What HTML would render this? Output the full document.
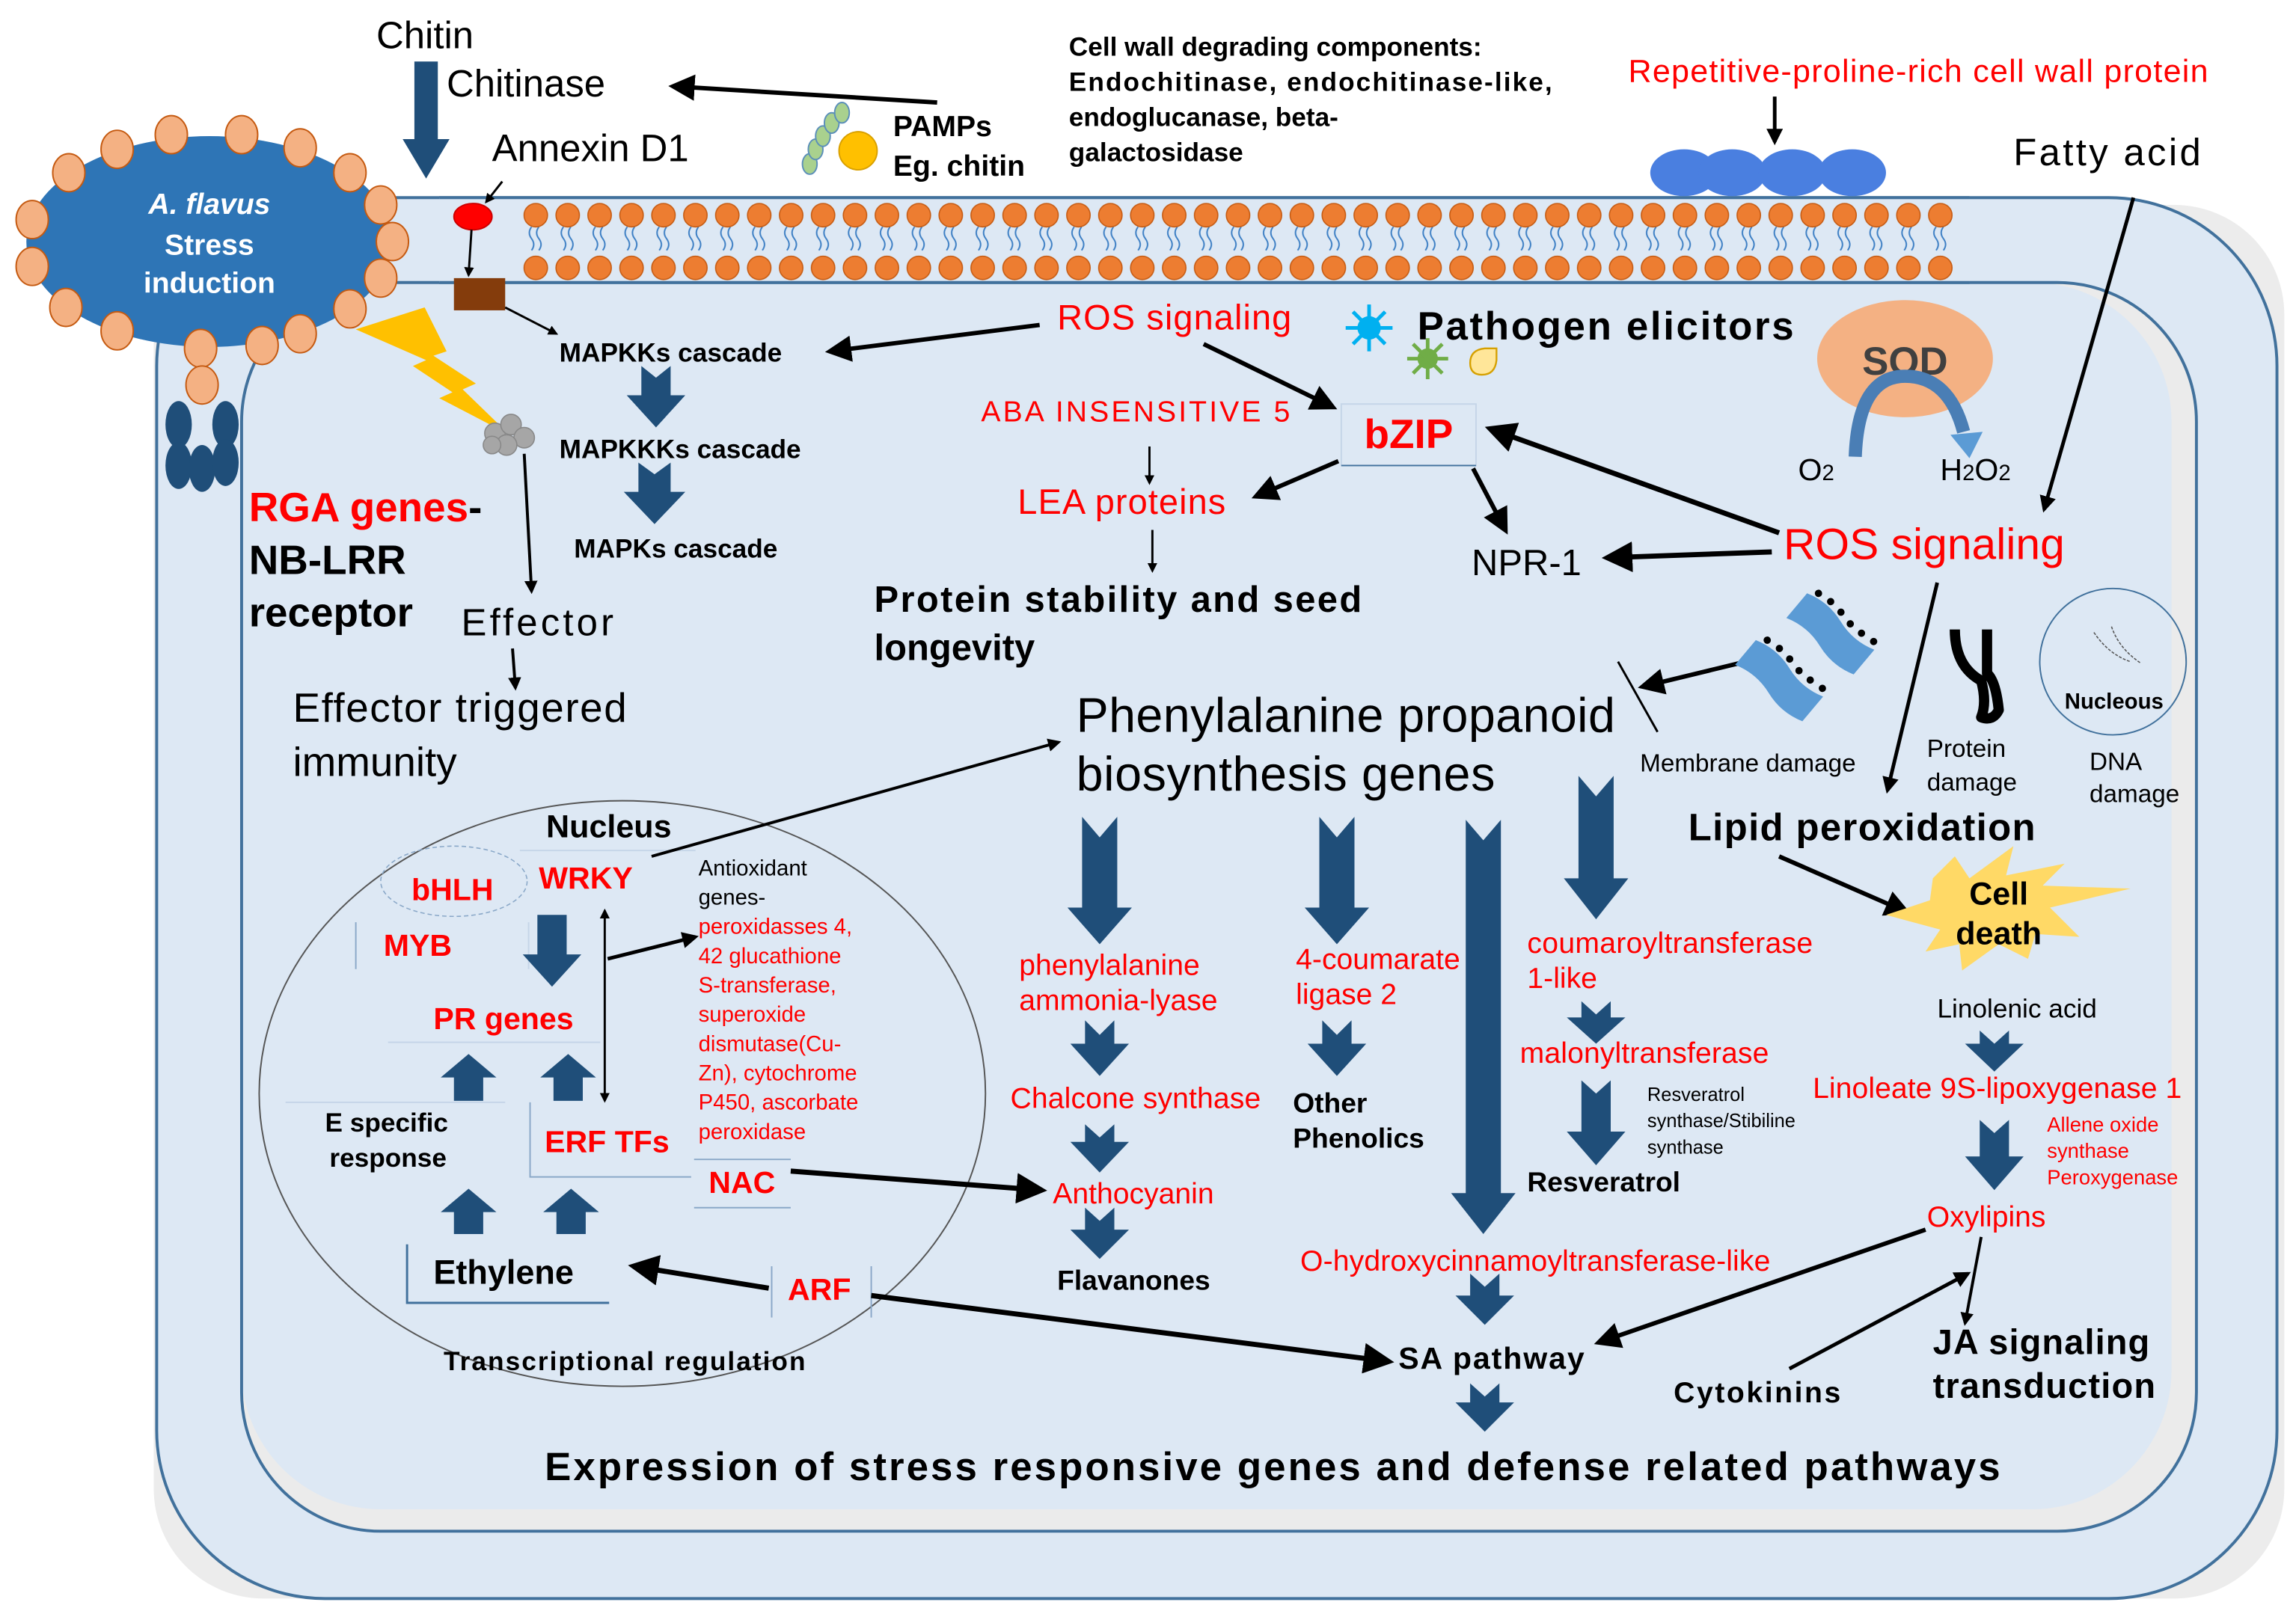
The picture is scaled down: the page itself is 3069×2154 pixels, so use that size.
<!DOCTYPE html>
<html><head><meta charset="utf-8"><style>
html,body{margin:0;padding:0;background:#fff;}
svg{display:block;}
text{font-family:"Liberation Sans",Arial,sans-serif;}
.b{font-weight:bold;}
.r{fill:#ff0000;}
</style></head><body>
<svg width="3069" height="2154" viewBox="0 0 1568 1100.5" preserveAspectRatio="none" xmlns="http://www.w3.org/2000/svg">
<defs>
<marker id="ah" viewBox="0 0 10 10" refX="8" refY="5" markerWidth="4.5" markerHeight="4.5" orient="auto-start-reverse"><path d="M0,0 L10,5 L0,10 z" fill="#000"/></marker>
<marker id="ahs" viewBox="0 0 10 10" refX="8" refY="5" markerWidth="6" markerHeight="6" orient="auto-start-reverse"><path d="M0,0 L10,5 L0,10 z" fill="#000"/></marker>
<pattern id="mem" x="355" y="135" width="21.8" height="58" patternUnits="userSpaceOnUse">
<path d="M8,20 q-3,4 0,8 q3,4 0,8 M13,20 q-3,4 0,8 q3,4 0,8" stroke="#3d7fc4" stroke-width="1" fill="none"/>
<circle cx="10.9" cy="12" r="8" fill="#ed7d31" stroke="#c55a11" stroke-width="0.8"/>
<circle cx="10.9" cy="48" r="8" fill="#ed7d31" stroke="#c55a11" stroke-width="0.8"/>
</pattern>
</defs>

<!-- cell wall -->
<rect x="105" y="140" width="1455" height="952" rx="75" fill="#ececec"/>
<rect x="107" y="135" width="1448" height="957" rx="115" fill="#dde8f4" stroke="#41719c" stroke-width="2"/>
<rect x="165" y="193" width="1335" height="853" rx="95" fill="#ebebeb"/>
<rect x="165" y="193" width="1318" height="838" rx="95" fill="#dde8f4"/>
<rect x="165" y="193" width="1335" height="853" rx="95" fill="none" stroke="#41719c" stroke-width="2"/>

<!-- membrane -->
<rect x="300" y="135" width="1045" height="58" fill="#dde8f4"/>
<rect x="355" y="135" width="981" height="58" fill="url(#mem)"/>
<line x1="300" y1="135" x2="1345" y2="135" stroke="#41719c" stroke-width="2"/>
<line x1="300" y1="193" x2="1345" y2="193" stroke="#41719c" stroke-width="2"/>

<!-- fungus -->
<ellipse cx="143" cy="165" rx="125" ry="72" fill="#2e75b6"/>
<g fill="#f4b183" stroke="#c55a11" stroke-width="1">
<ellipse cx="268" cy="165" rx="11" ry="13"/><ellipse cx="260" cy="140" rx="11" ry="13"/><ellipse cx="260" cy="190" rx="11" ry="13"/>
<ellipse cx="239" cy="118" rx="11" ry="13"/><ellipse cx="239" cy="211" rx="11" ry="13"/><ellipse cx="205" cy="101" rx="11" ry="13"/>
<ellipse cx="205" cy="228" rx="11" ry="13"/><ellipse cx="165" cy="92" rx="11" ry="13"/><ellipse cx="179" cy="236" rx="11" ry="13"/>
<ellipse cx="117" cy="92" rx="11" ry="13"/><ellipse cx="137" cy="238" rx="11" ry="13"/><ellipse cx="80" cy="102" rx="11" ry="13"/>
<ellipse cx="80" cy="226" rx="11" ry="13"/><ellipse cx="47" cy="118" rx="11" ry="13"/><ellipse cx="45" cy="210" rx="11" ry="13"/>
<ellipse cx="22" cy="150" rx="11" ry="13"/><ellipse cx="22" cy="182" rx="11" ry="13"/><ellipse cx="138" cy="263" rx="11" ry="13"/>
</g>
<text x="143" y="146" font-size="20" fill="#fff" class="b" font-style="italic" text-anchor="middle">A. flavus</text>
<text x="143" y="174" font-size="20" fill="#fff" class="b" text-anchor="middle">Stress</text>
<text x="143" y="200" font-size="20" fill="#fff" class="b" text-anchor="middle">induction</text>
<g fill="#1f4e79"><ellipse cx="122" cy="290" rx="9" ry="16"/><ellipse cx="154" cy="290" rx="9" ry="16"/><ellipse cx="122" cy="318" rx="9" ry="16"/><ellipse cx="138" cy="320" rx="9" ry="16"/><ellipse cx="154" cy="316" rx="9" ry="16"/></g>

<!-- chitin -->
<text x="257" y="33" font-size="26">Chitin</text>
<polygon points="283,42 299,42 299,95 307,95 291,122 275,95 283,95" fill="#1f4e79"/>
<text x="305" y="66" font-size="26">Chitinase</text>
<line x1="640" y1="70" x2="460" y2="59" stroke="#000" stroke-width="3" marker-end="url(#ahs)"/>
<text x="336" y="110" font-size="26">Annexin D1</text>
<line x1="343" y1="124" x2="332" y2="138" stroke="#000" stroke-width="1.5" marker-end="url(#ah)"/>
<ellipse cx="323" cy="148" rx="13" ry="9" fill="#ff0000" stroke="#c00" stroke-width="1"/>
<line x1="322" y1="157" x2="320" y2="188" stroke="#000" stroke-width="1.5" marker-end="url(#ah)"/>
<rect x="310" y="190" width="35" height="22" fill="#843c0c"/>
<line x1="345" y1="210" x2="380" y2="228" stroke="#000" stroke-width="1.5" marker-end="url(#ah)"/>

<!-- PAMPs -->
<g fill="#a9d18e" stroke="#5b8fb9" stroke-width="1">
<ellipse cx="553" cy="112" rx="5" ry="7"/><ellipse cx="557" cy="102" rx="5" ry="7"/><ellipse cx="562" cy="93" rx="5" ry="7"/><ellipse cx="568" cy="84" rx="5" ry="7"/><ellipse cx="575" cy="77" rx="5" ry="7"/>
</g>
<circle cx="586" cy="103" r="13" fill="#ffc000" stroke="#d9a000"/>
<text x="610" y="93" font-size="20" class="b">PAMPs</text>
<text x="610" y="120" font-size="20" class="b">Eg. chitin</text>
<g font-size="18" class="b"><text x="730" y="38">Cell wall degrading components:</text><text x="730" y="62" textLength="330">Endochitinase, endochitinase-like,</text><text x="730" y="86">endoglucanase, beta-</text><text x="730" y="110">galactosidase</text></g>
<text x="1112" y="56" font-size="22" class="r" textLength="396">Repetitive-proline-rich cell wall protein</text>
<line x1="1212" y1="66" x2="1212" y2="97" stroke="#000" stroke-width="2.5" marker-end="url(#ah)"/>
<g fill="#4a7fe0"><ellipse cx="1150" cy="118" rx="23" ry="16"/><ellipse cx="1183" cy="118" rx="23" ry="16"/><ellipse cx="1224" cy="118" rx="23" ry="16"/><ellipse cx="1265" cy="118" rx="23" ry="16"/></g>
<text x="1375" y="113" font-size="26" textLength="128">Fatty acid</text>
<line x1="1457" y1="135" x2="1396" y2="348" stroke="#000" stroke-width="2.5" marker-end="url(#ah)"/>

<!-- lightning -->
<polygon points="243,225 290,210 305,240 296,243 325,262 316,266 348,297 300,272 309,268 282,250 291,246" fill="#ffc000"/>
<g fill="#a6a6a6" stroke="#888" stroke-width="0.8"><circle cx="338" cy="296" r="7"/><circle cx="349" cy="290" r="7"/><circle cx="358" cy="299" r="7"/><circle cx="346" cy="304" r="7"/><circle cx="336" cy="304" r="6"/></g>
<line x1="358" y1="310" x2="363" y2="404" stroke="#000" stroke-width="2" marker-end="url(#ah)"/>

<!-- MAPK -->
<g font-size="18" class="b"><text x="382" y="247">MAPKKs cascade</text><text x="382" y="313">MAPKKKs cascade</text><text x="392" y="381">MAPKs cascade</text></g>
<line x1="710" y1="222" x2="567" y2="240" stroke="#000" stroke-width="3" marker-end="url(#ahs)"/>
<text x="722" y="225" font-size="24" class="r" textLength="160">ROS signaling</text>
<g fill="#1f4e79">
<polygon points="438,250 448,258 458,250 458,270 468,270 448,292 428,270 438,270"/>
<polygon points="436,316 447,324 458,316 458,336 468,336 447,358 426,336 436,336"/>
</g>

<text x="170" y="356" font-size="28" class="b"><tspan fill="#ff0000">RGA genes</tspan>-</text>
<text x="170" y="392" font-size="28" class="b">NB-LRR</text>
<text x="170" y="428" font-size="28" class="b">receptor</text>
<text x="315" y="434" font-size="26" textLength="104">Effector</text>
<line x1="350" y1="443" x2="352" y2="470" stroke="#000" stroke-width="2" marker-end="url(#ah)"/>
<text x="200" y="493" font-size="28" textLength="228">Effector triggered</text>
<text x="200" y="530" font-size="28">immunity</text>

<!-- center top -->
<line x1="822" y1="235" x2="910" y2="278" stroke="#000" stroke-width="3" marker-end="url(#ahs)"/>
<g transform="translate(935,224)"><circle r="8" fill="#00b0f0"/><g stroke="#00b0f0" stroke-width="2.5"><line x1="-16" y1="0" x2="16" y2="0"/><line x1="0" y1="-16" x2="0" y2="16"/><line x1="-11" y1="-11" x2="11" y2="11"/><line x1="-11" y1="11" x2="11" y2="-11"/></g></g>
<g transform="translate(975,245)"><circle r="7" fill="#70ad47"/><g stroke="#70ad47" stroke-width="2.5"><line x1="-14" y1="0" x2="14" y2="0"/><line x1="0" y1="-14" x2="0" y2="14"/><line x1="-10" y1="-10" x2="10" y2="10"/><line x1="-10" y1="10" x2="10" y2="-10"/></g></g>
<path d="M1004,248 q0,-9 10,-10 l8,0 l0,8 q-1,10 -10,10 q-8,0 -8,-8z" fill="#ffe699" stroke="#d6a000" stroke-width="1.2"/>
<text x="968" y="232" font-size="27" class="b" textLength="257">Pathogen elicitors</text>
<rect x="916" y="276" width="92" height="42" fill="#dde8f4" stroke="#c5d5e8" stroke-width="1"/>
<line x1="916" y1="318" x2="1008" y2="318" stroke="#41719c" stroke-width="1"/>
<text x="962" y="306" font-size="28" class="b r" text-anchor="middle">bZIP</text>
<text x="670" y="288" font-size="20" class="r" textLength="211">ABA INSENSITIVE 5</text>
<line x1="785" y1="305" x2="785" y2="330" stroke="#000" stroke-width="1.5" marker-end="url(#ah)"/>
<text x="695" y="351" font-size="24" class="r" textLength="142">LEA proteins</text>
<line x1="914" y1="315" x2="858" y2="339" stroke="#000" stroke-width="3" marker-end="url(#ahs)"/>
<line x1="787" y1="362" x2="787" y2="390" stroke="#000" stroke-width="1.5" marker-end="url(#ah)"/>
<text x="597" y="418" font-size="25" class="b" textLength="333">Protein stability and seed</text>
<text x="597" y="451" font-size="25" class="b">longevity</text>
<line x1="1006" y1="320" x2="1028" y2="362" stroke="#000" stroke-width="3" marker-end="url(#ahs)"/>
<text x="1005" y="393" font-size="25">NPR-1</text>
<line x1="1210" y1="377" x2="1098" y2="381" stroke="#000" stroke-width="3.5" marker-end="url(#ahs)"/>
<line x1="1215" y1="364" x2="1018" y2="293" stroke="#000" stroke-width="3.5" marker-end="url(#ahs)"/>

<!-- SOD -->
<ellipse cx="1301" cy="245" rx="60" ry="40" fill="#f4b183"/>
<text x="1301" y="256" font-size="27" class="b" fill="#404040" text-anchor="middle">SOD</text>
<path d="M1267,312 q2,-55 34,-55 q30,0 40,38" fill="none" stroke="#4a7eb5" stroke-width="9"/>
<polygon points="1332,297 1354,295 1345,313" fill="#5b9bd5"/>
<text x="1228" y="328" font-size="21">O<tspan font-size="15">2</tspan></text>
<text x="1325" y="328" font-size="21">H<tspan font-size="15">2</tspan>O<tspan font-size="15">2</tspan></text>
<text x="1218" y="382" font-size="30" class="r" textLength="192">ROS signaling</text>
<line x1="1323" y1="398" x2="1289" y2="540" stroke="#000" stroke-width="2.5" marker-end="url(#ah)"/>

<!-- damage -->
<line x1="1105" y1="452" x2="1132" y2="500" stroke="#000" stroke-width="1.5"/>
<line x1="1188" y1="453" x2="1122" y2="469" stroke="#000" stroke-width="3" marker-end="url(#ahs)"/>
<g transform="translate(1215,465) rotate(40)"><path d="M-30,-11 q15,-5 30,0 q15,5 30,0 l0,22 q-15,5 -30,0 q-15,-5 -30,0z" fill="#5b9bd5"/>
<g fill="#000"><circle cx="-24" cy="-16" r="2.5"/><circle cx="-14" cy="-17" r="2.5"/><circle cx="-4" cy="-16" r="2.5"/><circle cx="6" cy="-14" r="2.5"/><circle cx="16" cy="-14" r="2.5"/><circle cx="26" cy="-15" r="2.5"/></g></g>
<g transform="translate(1250,433) rotate(40)"><path d="M-30,-11 q15,-5 30,0 q15,5 30,0 l0,22 q-15,5 -30,0 q-15,-5 -30,0z" fill="#5b9bd5"/>
<g fill="#000"><circle cx="-24" cy="-16" r="2.5"/><circle cx="-14" cy="-17" r="2.5"/><circle cx="-4" cy="-16" r="2.5"/><circle cx="6" cy="-14" r="2.5"/><circle cx="16" cy="-14" r="2.5"/><circle cx="26" cy="-15" r="2.5"/></g></g>
<text x="1120" y="527" font-size="17">Membrane damage</text>
<path d="M1335,430 q0,25 18,35 q4,15 0,25 q8,3 12,-5 q-2,-20 -8,-25 l0,-30" fill="none" stroke="#000" stroke-width="7" stroke-linejoin="round"/>
<text x="1316" y="517" font-size="17">Protein</text>
<text x="1316" y="540" font-size="17">damage</text>
<circle cx="1443" cy="452" r="50" fill="none" stroke="#41719c" stroke-width="1"/>
<path d="M1430,432 q10,15 25,20 M1442,428 q5,15 20,25" fill="none" stroke="#555" stroke-width="0.8" stroke-dasharray="2,1"/>
<text x="1410" y="484" font-size="15" class="b">Nucleous</text>
<text x="1427" y="526" font-size="17">DNA</text>
<text x="1427" y="548" font-size="17">damage</text>

<!-- phenylalanine -->
<text x="735" y="500" font-size="33" textLength="368">Phenylalanine propanoid</text>
<text x="735" y="540" font-size="33" textLength="286">biosynthesis genes</text>
<text x="1153" y="574" font-size="26" class="b" textLength="237">Lipid peroxidation</text>
<line x1="1215" y1="585" x2="1302" y2="623" stroke="#000" stroke-width="3" marker-end="url(#ahs)"/>
<polygon points="1320,600 1335,585 1345,600 1375,578 1370,598 1410,590 1395,605 1455,607 1400,620 1420,640 1390,638 1385,655 1365,645 1340,663 1338,645 1315,650 1325,635 1288,625 1318,615" fill="#ffd966"/>
<text x="1365" y="618" font-size="22" class="b" text-anchor="middle">Cell</text>
<text x="1365" y="645" font-size="22" class="b" text-anchor="middle">death</text>
<text x="1323" y="695" font-size="18">Linolenic acid</text>

<!-- fat arrows -->
<g fill="#1f4e79">
<polygon points="739,558 751,572 763,558 763,620 773,620 751,645 729,620 739,620"/>
<polygon points="741,697 751,707 761,697 761,713 771,713 751,735 731,713 741,713"/>
<polygon points="741,768 751,777 761,768 761,780 771,780 751,801 731,780 741,780"/>
<polygon points="741,825 751,834 761,825 761,840 771,840 751,860 731,840 741,840"/>
<polygon points="901,558 913,572 925,558 925,620 935,620 913,645 891,620 901,620"/>
<polygon points="903,697 913,707 923,697 923,713 933,713 913,735 893,713 903,713"/>
<polygon points="1001,560 1013,574 1025,560 1025,815 1035,815 1013,843 991,815 1001,815"/>
<polygon points="1004,870 1014,879 1024,870 1024,885 1034,885 1014,905 994,885 1004,885"/>
<polygon points="1004,945 1014,954 1024,945 1024,958 1034,958 1014,978 994,958 1004,958"/>
<polygon points="1078,530 1090,544 1102,530 1102,600 1112,600 1090,628 1068,600 1078,600"/>
<polygon points="1080,684 1090,693 1100,684 1100,695 1110,695 1090,713 1070,695 1080,695"/>
<polygon points="1080,738 1090,747 1100,738 1100,773 1110,773 1090,796 1070,773 1080,773"/>
<polygon points="1352,704 1362,713 1372,704 1372,713 1382,713 1362,732 1342,713 1352,713"/>
<polygon points="1352,765 1362,774 1372,765 1372,790 1382,790 1362,813 1342,790 1352,790"/>
</g>
<g font-size="20" class="r">
<text x="696" y="666">phenylalanine</text><text x="696" y="690">ammonia-lyase</text>
<text x="690" y="757" textLength="171">Chalcone synthase</text>
<text x="719" y="822">Anthocyanin</text>
<text x="885" y="662">4-coumarate</text><text x="885" y="686">ligase 2</text>
<text x="1043" y="651" textLength="195">coumaroyltransferase</text><text x="1043" y="675">1-like</text>
<text x="1038" y="726" textLength="170">malonyltransferase</text>
<text x="1238" y="750" textLength="252">Linoleate 9S-lipoxygenase 1</text>
<text x="1316" y="838">Oxylipins</text>
<text x="888" y="868" textLength="321">O-hydroxycinnamoyltransferase-like</text>
</g>
<text x="722" y="881" font-size="19" class="b">Flavanones</text>
<text x="883" y="760" font-size="19" class="b">Other</text><text x="883" y="784" font-size="19" class="b">Phenolics</text>
<g font-size="13"><text x="1125" y="752">Resveratrol</text><text x="1125" y="770">synthase/Stibiline</text><text x="1125" y="788">synthase</text></g>
<text x="1043" y="814" font-size="19" class="b">Resveratrol</text>
<g font-size="14" class="r"><text x="1398" y="773">Allene oxide</text><text x="1398" y="791">synthase</text><text x="1398" y="809">Peroxygenase</text></g>
<text x="955" y="935" font-size="21" class="b" textLength="127">SA pathway</text>
<line x1="1315" y1="840" x2="1092" y2="917" stroke="#000" stroke-width="3" marker-end="url(#ahs)"/>
<line x1="1353" y1="845" x2="1342" y2="904" stroke="#000" stroke-width="2" marker-end="url(#ah)"/>
<line x1="1222" y1="935" x2="1344" y2="870" stroke="#000" stroke-width="2.5" marker-end="url(#ah)"/>
<text x="1320" y="925" font-size="24" class="b" textLength="148">JA signaling</text>
<text x="1320" y="955" font-size="24" class="b" textLength="152">transduction</text>
<text x="1143" y="958" font-size="20" class="b" textLength="114">Cytokinins</text>
<text x="372" y="1011" font-size="27" class="b" textLength="994">Expression of stress responsive genes and defense related pathways</text>

<!-- nucleus -->
<ellipse cx="425" cy="747" rx="248" ry="200" fill="none" stroke="#555" stroke-width="1"/>
<text x="373" y="572" font-size="22" class="b">Nucleus</text>
<line x1="355" y1="581" x2="475" y2="581" stroke="#c5d5e8" stroke-width="1"/>
<line x1="445" y1="585" x2="723" y2="507" stroke="#000" stroke-width="2" marker-end="url(#ah)"/>
<ellipse cx="310" cy="602" rx="50" ry="24" fill="none" stroke="#8aa8c8" stroke-width="0.8" stroke-dasharray="3,2"/>
<text x="309" y="615" font-size="21" class="b r" text-anchor="middle">bHLH</text>
<text x="368" y="607" font-size="21" class="b r">WRKY</text>
<line x1="243" y1="630" x2="243" y2="662" stroke="#8aa8c8"/><line x1="361" y1="630" x2="361" y2="662" stroke="#c5d5e8"/>
<text x="262" y="653" font-size="21" class="b r">MYB</text>
<polygon points="367,625 387,625 387,652 397,652 377,674 357,652 367,652" fill="#1f4e79"/>
<line x1="413" y1="622" x2="413" y2="752" stroke="#000" stroke-width="1.5" marker-start="url(#ah)" marker-end="url(#ah)"/>
<line x1="415" y1="655" x2="475" y2="640" stroke="#000" stroke-width="2.5" marker-end="url(#ah)"/>
<g font-size="15"><text x="477" y="598">Antioxidant</text><text x="477" y="618">genes-</text></g>
<g font-size="15" class="r"><text x="477" y="638">peroxidasses 4,</text><text x="477" y="658">42 glucathione</text><text x="477" y="678">S-transferase,</text><text x="477" y="698">superoxide</text><text x="477" y="718">dismutase(Cu-</text><text x="477" y="738">Zn), cytochrome</text><text x="477" y="758">P450, ascorbate</text><text x="477" y="778">peroxidase</text></g>
<text x="296" y="703" font-size="21" class="b r">PR genes</text>
<line x1="265" y1="712" x2="410" y2="712" stroke="#c5d5e8"/>
<g fill="#1f4e79">
<polygon points="310,752 330,752 330,736 339,736 320,720 301,736 310,736"/>
<polygon points="378,752 398,752 398,736 407,736 388,720 369,736 378,736"/>
<polygon points="310,843 330,843 330,828 339,828 320,812 301,828 310,828"/>
<polygon points="380,843 400,843 400,828 409,828 390,812 371,828 380,828"/>
</g>
<line x1="195" y1="753" x2="345" y2="753" stroke="#c5d5e8"/>
<text x="222" y="773" font-size="18" class="b">E specific</text><text x="225" y="797" font-size="18" class="b">response</text>
<path d="M362,753 L362,804 L472,804" fill="none" stroke="#8aa8c8"/>
<text x="372" y="787" font-size="21" class="b r">ERF TFs</text>
<line x1="474" y1="792" x2="540" y2="792" stroke="#8aa8c8"/><line x1="474" y1="825" x2="540" y2="825" stroke="#8aa8c8"/>
<text x="484" y="815" font-size="21" class="b r">NAC</text>
<line x1="540" y1="800" x2="711" y2="813" stroke="#000" stroke-width="3.5" marker-end="url(#ahs)"/>
<path d="M278,850 L278,890 L416,890" fill="none" stroke="#41719c" stroke-width="1.5"/>
<text x="296" y="877" font-size="23" class="b">Ethylene</text>
<line x1="527" y1="865" x2="527" y2="900" stroke="#8aa8c8"/><line x1="595" y1="865" x2="595" y2="900" stroke="#8aa8c8"/>
<text x="538" y="888" font-size="21" class="b r">ARF</text>
<line x1="525" y1="880" x2="433" y2="865" stroke="#000" stroke-width="3.5" marker-end="url(#ahs)"/>
<line x1="595" y1="885" x2="948" y2="930" stroke="#000" stroke-width="3.5" marker-end="url(#ahs)"/>
<text x="303" y="936" font-size="18" class="b" textLength="247">Transcriptional regulation</text>
</svg>
</body></html>
